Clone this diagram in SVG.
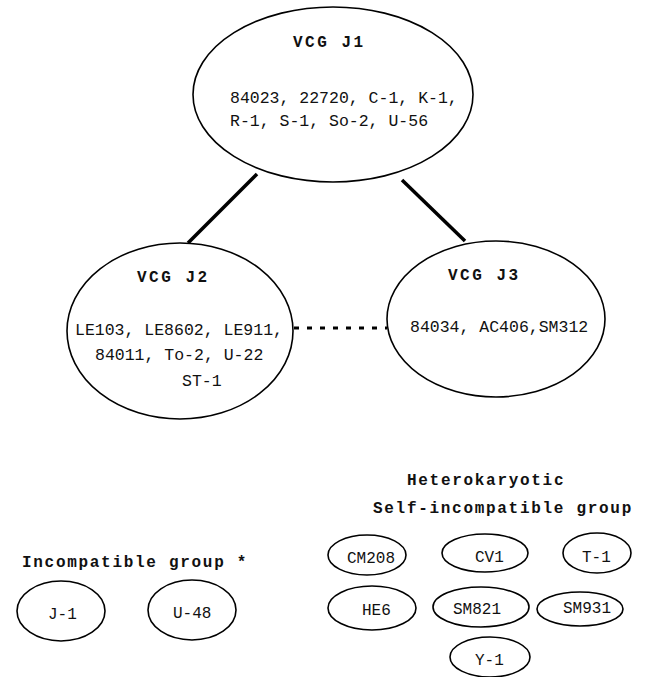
<svg xmlns="http://www.w3.org/2000/svg" width="647" height="677" viewBox="0 0 647 677">
  <style>
    .node { fill: #ffffff; stroke: #000000; stroke-width: 1.6; }
    .txt { font-family: "Liberation Mono", "DejaVu Sans Mono", monospace; font-size: 16.5px; fill: #111111; }
    .sm { font-family: "Liberation Mono", "DejaVu Sans Mono", monospace; font-size: 16px; fill: #111111; }
    .ttl { font-family: "Liberation Mono", "DejaVu Sans Mono", monospace; font-size: 16px; font-weight: bold; letter-spacing: 2.5px; fill: #111111; }
    .lbl { font-family: "Liberation Mono", "DejaVu Sans Mono", monospace; font-size: 16px; font-weight: bold; letter-spacing: 1.7px; fill: #111111; }
    .solid { stroke: #000000; stroke-width: 3.5; fill: none; }
    .dotted { stroke: #000000; stroke-width: 3; stroke-dasharray: 5 8; fill: none; }
  </style>
  <rect width="647" height="677" fill="#ffffff"/>

  <!-- links between the VCG groups -->
  <g id="connectors">
    <line class="solid" x1="257" y1="174" x2="188" y2="243"/>
    <line class="solid" x1="402" y1="180" x2="465" y2="241"/>
    <line class="dotted" x1="294" y1="328" x2="387" y2="328"/>
  </g>

  <g id="vcg-j1">
    <ellipse class="node" cx="333" cy="94.5" rx="140" ry="87.5"/>
    <text class="ttl" x="293" y="47">VCG J1</text>
    <text class="txt" x="230" y="103">84023, 22720, C-1, K-1,</text>
    <text class="txt" x="230" y="126">R-1, S-1, So-2, U-56</text>
  </g>

  <g id="vcg-j2">
    <ellipse class="node" cx="180" cy="331" rx="113" ry="88"/>
    <text class="ttl" x="137" y="282">VCG J2</text>
    <text class="txt" x="75" y="335">LE103, LE8602, LE911,</text>
    <text class="txt" x="95" y="360">84011, To-2, U-22</text>
    <text class="txt" x="182" y="386">ST-1</text>
  </g>

  <g id="vcg-j3">
    <ellipse class="node" cx="496" cy="319" rx="109" ry="78"/>
    <text class="ttl" x="448" y="280">VCG J3</text>
    <text class="txt" x="410" y="332">84034, AC406,SM312</text>
  </g>

  <!-- incompatible group -->
  <g id="incompatible-label">
    <text class="lbl" x="22" y="567">Incompatible group *</text>
  </g>
  <g id="j-1">
    <ellipse class="node" cx="61" cy="611" rx="44" ry="30"/>
    <text class="sm" x="48" y="619">J-1</text>
  </g>
  <g id="u-48">
    <ellipse class="node" cx="192" cy="610" rx="44" ry="30"/>
    <text class="sm" x="173" y="618">U-48</text>
  </g>

  <!-- heterokaryotic self-incompatible group -->
  <g id="self-incompatible-label">
    <text class="lbl" x="407" y="485">Heterokaryotic</text>
    <text class="lbl" x="373" y="513">Self-incompatible group</text>
  </g>
  <g id="cm208">
    <ellipse class="node" cx="367" cy="555" rx="39" ry="20"/>
    <text class="sm" x="347" y="563">CM208</text>
  </g>
  <g id="cv1">
    <ellipse class="node" cx="485" cy="553" rx="43" ry="19"/>
    <text class="sm" x="475" y="562">CV1</text>
  </g>
  <g id="t-1">
    <ellipse class="node" cx="597" cy="553" rx="34" ry="20"/>
    <text class="sm" x="582" y="562">T-1</text>
  </g>
  <g id="he6">
    <ellipse class="node" cx="372" cy="608" rx="44" ry="22"/>
    <text class="sm" x="362" y="615">HE6</text>
  </g>
  <g id="sm821">
    <ellipse class="node" cx="481" cy="607" rx="48" ry="20"/>
    <text class="sm" x="453" y="614">SM821</text>
  </g>
  <g id="sm931">
    <ellipse class="node" cx="580" cy="609" rx="43" ry="17"/>
    <text class="sm" x="563" y="613">SM931</text>
  </g>
  <g id="y-1">
    <ellipse class="node" cx="490" cy="657" rx="40" ry="20"/>
    <text class="sm" x="475" y="665">Y-1</text>
  </g>
</svg>
